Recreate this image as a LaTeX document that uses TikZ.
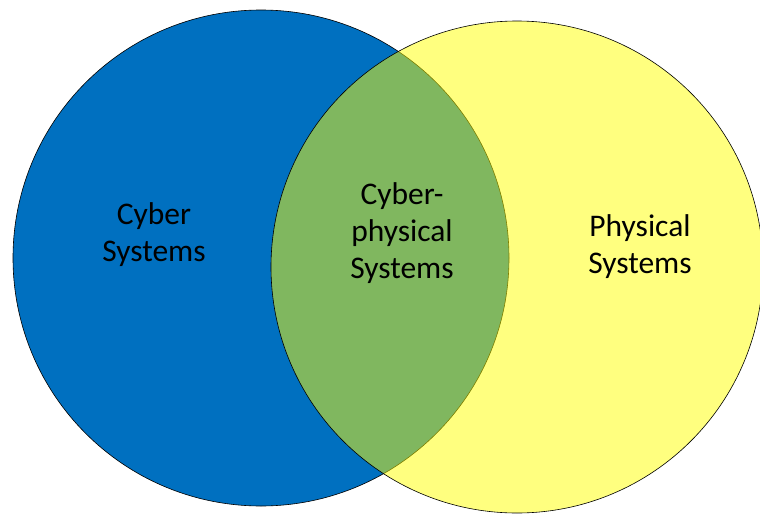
\documentclass[tikz,border=0pt]{standalone}
\usepackage{fontspec}
\setmainfont{Carlito}
\usepackage{tikz}
\usetikzlibrary{positioning}
\definecolor{cyberblue}{HTML}{0070C0}
\definecolor{physyellow}{HTML}{FFFF00}
\tikzset{
x=1pt, y=-1pt, % one unit is one pixel of the reference
set/.style={circle, draw=black, line width=0.6pt, inner sep=0pt}, % the two circles
label text/.style={font=\fontsize{31.5}{37}\selectfont, align=center}, % the names of the sets
}

\begin{document}
\begin{tikzpicture}
  \clip (0,0) rectangle (760,514);
  \node[set, minimum size=496pt, fill=cyberblue] (cyber) at (261,258) {};
  \node[set, minimum size=492pt, fill=physyellow, fill opacity=0.5] (physical) at (517,267) {};

  \node[label text] (cybertext) at (154,235) {Cyber\\Systems};
  \node[label text] (cpstext) at (402,233) {Cyber-\\physical\\Systems};
  \node[label text] (phystext) at (640,247) {Physical\\Systems};
\end{tikzpicture}
\end{document}
